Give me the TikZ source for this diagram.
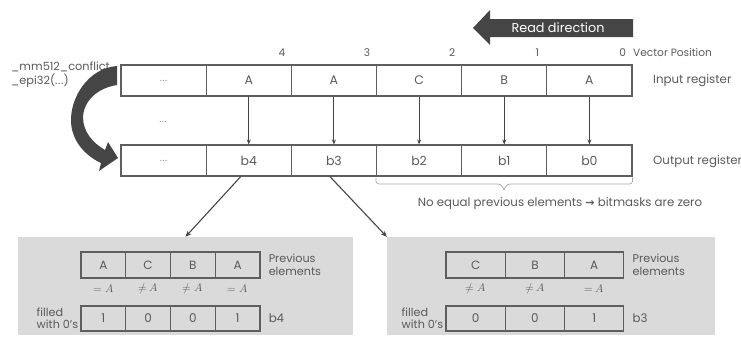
\documentclass[tikz,border=0pt]{standalone}
\usepackage{fontspec}
\usepackage{unicode-math}
\setmainfont{Poppins}
\setmathfont{Latin Modern Math}
\newfontfamily\symfont{DejaVu Sans}
\usetikzlibrary{arrows.meta}
\definecolor{ink}{HTML}{5A5A5A}
\definecolor{edge}{HTML}{5E5E5E}
\definecolor{dark}{HTML}{454545}
\definecolor{boxgray}{HTML}{DADADA}
\definecolor{soft}{HTML}{A8A8A8}
\definecolor{dotgray}{HTML}{8C8C8C}
\newcommand{\threedots}{.\kern0.6pt.\kern0.6pt.}
\tikzset{
  cell/.style={draw=edge, line width=1.1pt, minimum width=85.2pt, minimum height=31pt,
    inner sep=0pt, font=\fontsize{12.5}{14}\selectfont, text=ink},
  smallcell/.style={draw=edge, line width=1.1pt, minimum height=26pt,
    inner sep=0pt, font=\fontsize{12}{14}\selectfont, text=ink},
  lbl/.style={text=ink, inner sep=0pt, font=\fontsize{11.8}{13}\selectfont},
  twoline/.style={text=ink, inner sep=0pt, align=left, font=\fontsize{11.2}{12.5}\selectfont},
  poslbl/.style={text=ink, inner sep=0pt, font=\fontsize{10.6}{12}\selectfont},
  cmp/.style={text=ink, inner sep=0pt, font=\fontsize{11}{12}\selectfont},
  link/.style={draw=dark, line width=1.1pt, -{Stealth[length=6pt,width=5pt]}},
  panel/.style={fill=boxgray, inner sep=0pt},
  dots/.style={text=dotgray, inner sep=1pt, font=\fontsize{10}{11}\selectfont}
}
\begin{document}
\begin{tikzpicture}[x=1pt,y=-1pt]
\useasboundingbox (0,0) rectangle (741,338);

% read direction arrow
\fill[dark] (633,19) -- (490,19) -- (490,10) -- (473,28) -- (490,45) -- (490,37) -- (633,37) -- cycle;
\node[text=white, inner sep=0pt, font=\fontsize{12.8}{14}\selectfont] (readdir) at (558,28) {Read direction};

% input and output registers
\foreach \i/\t in {1/A,2/A,3/C,4/B,5/A}{
  \node[cell] (in\i) at ({121+85.17*(\i+0.5)},80.5) {\t};
}
\foreach \i/\t in {1/b4,2/b3,3/b2,4/b1,5/b0}{
  \node[cell] (out\i) at ({121+85.17*(\i+0.5)},160.5) {\t};
}
\node[cell] (in0) at ({121+85.17*0.5},80.5) {};
\node[cell] (out0) at ({121+85.17*0.5},160.5) {};
\node[dots] (indots) at (in0) {\threedots};
\node[dots] (outdots) at (out0) {\threedots};
\node[dots] (middots) at (163,122) {\threedots};

% vector positions
\foreach \i/\p in {1/4,2/3,3/2,4/1,5/0}{
  \node[poslbl] (pos\p) at ([xshift=-10pt,yshift=12pt]in\i.north east) {\p};
}
\node[poslbl, anchor=west] (vp) at (633,53) {Vector Position};
\node[lbl, anchor=west] (inlbl) at (653,81) {Input register};
\node[lbl, anchor=west] (outlbl) at (653,162) {Output register};

% element-to-bitmask arrows
\foreach \i in {1,...,5}{
  \draw[draw=dark, line width=1pt, -{Stealth[length=5pt,width=4pt]}] (in\i.south) -- (out\i.north);
}

% intrinsic name and curved arrow
\node[lbl, anchor=west, align=left, font=\fontsize{11.3}{14}\selectfont] (intr) at (11,75) {\_mm512\_conflict\\\_epi32(\threedots)};
\fill[dark] (117,66) .. controls (88,68) and (70,98) .. (71,122)
  .. controls (72,142) and (86,156) .. (101,163) -- (99,171) -- (118,158)
  -- (108,142) -- (105,150) .. controls (93,143) and (83,132) .. (83,117)
  .. controls (84,100) and (98,88) .. (117,85) -- cycle;

% brace under b2..b0
\draw[soft, line width=0.7pt, rounded corners=3pt] (out3.south west) ++(0,1) |- (501,184) -- (504,190);
\draw[soft, line width=0.7pt, rounded corners=3pt] (out5.south east) ++(0,1) |- (507,184) -- (504,190);
\node[lbl, anchor=north] (zero) at (560,197) {No equal previous elements {\symfont\bfseries\fontsize{11}{12}\selectfont →} bitmasks are zero};

% detail panels
\node[panel, minimum width=335pt, minimum height=98pt] (box1) at (185.5,286) {};
\node[panel, minimum width=328pt, minimum height=98pt] (box2) at (551,286) {};
\draw[link] ([xshift=-8pt]out1.south) -- (box1.north);
\draw[link] ([xshift=-4pt]out2.south) -- (box2.north west);

% panel for b4
\foreach \i/\t/\c/\b in {0/A/{=A}/1,1/C/{≠A}/0,2/B/{≠A}/0,3/A/{=A}/1}{
  \node[smallcell, minimum width=44.75pt] (pa\i) at ({81+44.75*(\i+0.5)},265) {\t};
  \node[cmp] (ca\i) at ({81+44.75*(\i+0.5)},289) {$\c$};
  \node[smallcell, minimum width=44.75pt, minimum height=25pt] (ba\i) at ({81+44.75*(\i+0.5)},318.5) {\b};
}
\node[twoline, anchor=west] (prev1) at ([xshift=8pt]pa3.east) {Previous\\elements};
\node[twoline, anchor=east] (fill1) at ([xshift=-2pt]ba0.west) {filled\\with 0's};
\node[lbl, anchor=west] (res1) at ([xshift=8pt]ba3.east) {b4};

% panel for b3
\foreach \i/\t/\c/\b in {0/C/{≠A}/0,1/B/{≠A}/0,2/A/{=A}/1}{
  \node[smallcell, minimum width=59.3pt] (pb\i) at ({446+59.3*(\i+0.5)},265) {\t};
  \node[cmp] (cb\i) at ({446+59.3*(\i+0.5)},289) {$\c$};
  \node[smallcell, minimum width=59.3pt, minimum height=25pt] (bb\i) at ({446+59.3*(\i+0.5)},318.5) {\b};
}
\node[twoline, anchor=west] (prev2) at ([xshift=8pt]pb2.east) {Previous\\elements};
\node[twoline, anchor=east] (fill2) at ([xshift=-2pt]bb0.west) {filled\\with 0's};
\node[lbl, anchor=west] (res2) at ([xshift=8pt]bb2.east) {b3};
\end{tikzpicture}
\end{document}
